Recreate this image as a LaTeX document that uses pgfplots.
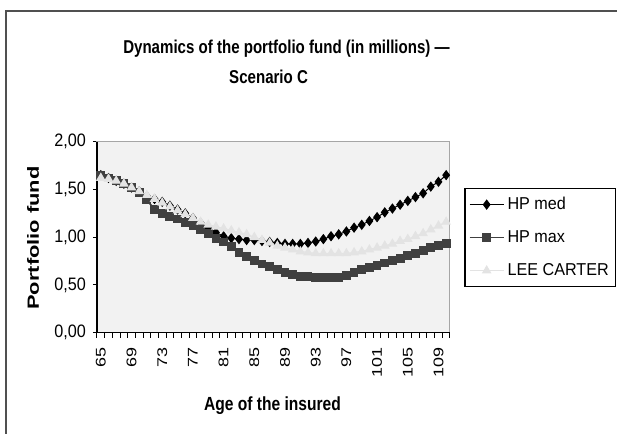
\documentclass[border=0pt]{standalone}
\usepackage{pgfplots}
\pgfplotsset{compat=1.18}
\usepackage{pgfplotstable}
\usepackage{fontspec}
\setmainfont{Liberation Sans}
\newfontfamily\fTitle{Liberation Sans}[FakeStretch=0.81]
\newfontfamily\fXl{Liberation Sans}[FakeStretch=0.82]
\newfontfamily\fYt{Liberation Sans}[FakeStretch=0.9]
\newfontfamily\fLeg{Liberation Sans}[FakeStretch=0.94]
\newfontfamily\fYl{Liberation Sans}[FakeStretch=1.35]
\newfontfamily\fXt{Liberation Sans}[FakeStretch=1.28]
\definecolor{bgc}{HTML}{F2F2F2}
\definecolor{maxc}{HTML}{404040}
\definecolor{lcc}{HTML}{E3E3E3}
\definecolor{framec}{HTML}{505050}
\pgfplotstableread{
idx age med max lc
0 65 1.65 1.65 1.62
1 66 1.62 1.62 1.61
2 67 1.59 1.59 1.59
3 68 1.56 1.56 1.56
4 69 1.52 1.52 1.52
5 70 1.48 1.47 1.48
6 71 1.43 1.39 1.44
7 72 1.40 1.29 1.40
8 73 1.37 1.25 1.36
9 74 1.33 1.22 1.32
10 75 1.29 1.19 1.28
11 76 1.25 1.15 1.24
12 77 1.20 1.12 1.20
13 78 1.15 1.08 1.16
14 79 1.10 1.04 1.13
15 80 1.05 0.99 1.11
16 81 1.01 0.95 1.09
17 82 0.99 0.90 1.07
18 83 0.98 0.84 1.05
19 84 0.97 0.80 1.03
20 85 0.97 0.76 1.00
21 86 0.96 0.72 0.97
22 87 0.95 0.69 0.94
23 88 0.94 0.66 0.91
24 89 0.93 0.63 0.89
25 90 0.93 0.61 0.87
26 91 0.93 0.59 0.85
27 92 0.94 0.585 0.84
28 93 0.955 0.58 0.83
29 94 0.98 0.58 0.83
30 95 1.01 0.58 0.83
31 96 1.03 0.58 0.83
32 97 1.06 0.60 0.83
33 98 1.10 0.63 0.84
34 99 1.13 0.66 0.85
35 100 1.17 0.68 0.87
36 101 1.21 0.70 0.89
37 102 1.26 0.73 0.91
38 103 1.30 0.76 0.93
39 104 1.34 0.78 0.96
40 105 1.38 0.81 0.98
41 106 1.42 0.83 1.01
42 107 1.46 0.86 1.04
43 108 1.53 0.89 1.08
44 109 1.58 0.91 1.12
45 110 1.65 0.93 1.16
}\datatable
\begin{document}
\begin{tikzpicture}
\useasboundingbox (0,0) rectangle (308.5pt,-217pt);
\fill[white] (0,0) rectangle (308.5pt,-217pt);
\draw[framec, line width=1pt] (3pt,-230pt) -- (3pt,-5.5pt) -- (320pt,-5.5pt);
\node[anchor=base, font=\fTitle\bfseries\fontsize{9.3}{11}\selectfont] at (143.25pt,-26.7pt) {Dynamics of the portfolio fund (in millions) —};
\node[anchor=base, font=\fTitle\bfseries\fontsize{9.3}{11}\selectfont] at (134.3pt,-41.7pt) {Scenario C};
\node[anchor=base, font=\fXl\bfseries\fontsize{9.5}{11}\selectfont] at (136.25pt,-205.3pt) {Age of the insured};
\node[rotate=90, font=\fYl\bfseries\fontsize{8.1}{10}\selectfont] at (16.5pt,-119pt) {Portfolio fund};
\begin{axis}[
  at={(48.5pt,-166.35pt)}, anchor=south west,
  scale only axis, width=176.5pt, height=95.5pt,
  xmin=-0.5, xmax=45.5, ymin=0, ymax=2,
  axis background/.style={fill=bgc},
  axis line style={draw=gray!70, line width=0.5pt},
  /pgf/number format/assume math mode=true,
  ytick={0,0.5,1,1.5,2},
  yticklabel style={/pgf/number format/fixed, /pgf/number format/fixed zerofill, /pgf/number format/precision=2, /pgf/number format/use comma, font=\fYt\fontsize{9}{10}\selectfont},
  xtick={0,4,...,44},
  xticklabels={65,69,73,77,81,85,89,93,97,101,105,109},
  xticklabel style={rotate=90, anchor=east, font=\fXt\fontsize{7}{8}\selectfont},
  xticklabel shift=2pt,
  minor xtick={-0.5,0.5,...,45.5},
  tick pos=left, tick align=outside,
  xtick style={draw=none},
  minor tick length=2.5pt,
  minor x tick style={black, line width=0.5pt, draw=black},
  ytick style={black, line width=0.5pt},
  major tick length=2pt,
  clip=false,
  legend style={at={(1.04,0.758)}, anchor=north west, draw=black, line width=0.7pt, fill=white,
    font=\fLeg\fontsize{8.6}{10}\selectfont, inner xsep=2pt, inner ysep=4pt, row sep=8.5pt,
    nodes={text height=6.5pt, text depth=1.5pt, inner ysep=0pt, inner xsep=1.5pt}},
  legend cell align=left,
]
\addplot[black, line width=0.5pt, mark=diamond*, mark size=2.2pt, mark options={fill=black, draw=black}] table[x=idx, y=med] {\datatable};
\addplot[maxc, line width=0.8pt, mark=square*, mark size=1.8pt, mark options={fill=maxc, draw=maxc}] table[x=idx, y=max] {\datatable};
\addplot[lcc, line width=0.6pt, mark=triangle*, mark size=2.2pt, mark options={fill=lcc, draw=lcc}] table[x=idx, y=lc] {\datatable};
\legend{HP med, HP max, LEE CARTER}
\draw[black, line width=0.6pt] (rel axis cs:0,1) -- (rel axis cs:0,0) -- (rel axis cs:1,0);
\end{axis}
\end{tikzpicture}
\end{document}
